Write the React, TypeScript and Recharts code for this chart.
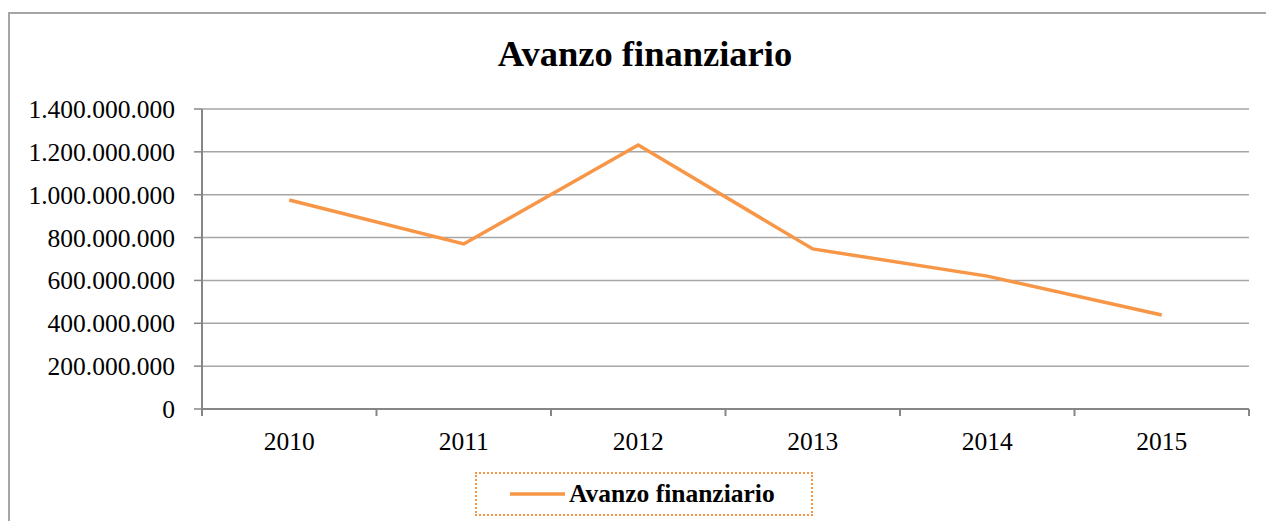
import { LineChart, Line, XAxis, YAxis, CartesianGrid, Legend } from 'recharts'

const years = ['2010', '2011', '2012', '2013', '2014', '2015']
const avanzo = [975000000, 770000000, 1232000000, 747000000, 620000000, 439000000]
const yTicks = [0, 200000000, 400000000, 600000000, 800000000, 1000000000, 1200000000, 1400000000]

const data = years.map((y, i) => ({ year: y, value: avanzo[i] }))

const W = 1266
const H = 521
const M = { top: 109, right: 17, bottom: 82, left: 0 }
const Y_AXIS_W = 202
const PLOT_W = W - M.left - M.right - Y_AXIS_W
const HALF_STEP = PLOT_W / years.length / 2
const ORANGE = '#F79646'
const FONT = '"Liberation Serif", "Times New Roman", serif'

const fmt = (v: number) => String(v).replace(/\B(?=(\d{3})+(?!\d))/g, '.')

// eslint-disable-next-line @typescript-eslint/no-explicit-any
function YearTick({ x, y, payload, index }: any) {
  const top = y - 23
  const bottom = y - 16
  return (
    <g>
      <line x1={x - HALF_STEP} x2={x - HALF_STEP} y1={top} y2={bottom} stroke="#868686" strokeWidth={2} />
      {index === years.length - 1 && (
        <line x1={x + HALF_STEP} x2={x + HALF_STEP} y1={top} y2={bottom} stroke="#868686" strokeWidth={2} />
      )}
      <text x={x} y={y} dy="0.71em" textAnchor="middle" fill="#000" fontSize={25.5} fontFamily={FONT}>
        {payload.value}
      </text>
    </g>
  )
}

function LegendBox() {
  return (
    <div
      style={{
        boxSizing: 'border-box',
        width: 338,
        height: 44,
        border: `2px dotted ${ORANGE}`,
        display: 'flex',
        alignItems: 'center',
        paddingLeft: 33,
      }}
    >
      <svg width={55} height={6} style={{ display: 'block' }}>
        <line x1={0} x2={55} y1={3} y2={3} stroke={ORANGE} strokeWidth={3.5} />
      </svg>
      <span style={{ fontFamily: FONT, fontWeight: 'bold', fontSize: 25.5, color: '#000', marginLeft: 4 }}>
        Avanzo finanziario
      </span>
    </div>
  )
}

export default function App() {
  return (
    <div style={{ position: 'absolute', left: 0, top: 0, width: W, height: H, background: '#fff', overflow: 'hidden' }}>
      <div
        style={{
          position: 'absolute',
          left: 8,
          top: 12,
          width: W,
          height: H,
          borderLeft: '2px solid #A6A6A6',
          borderTop: '2px solid #A6A6A6',
        }}
      />
      <div
        style={{
          position: 'absolute',
          left: 0,
          top: 36,
          width: 1290,
          textAlign: 'center',
          fontFamily: FONT,
          fontWeight: 'bold',
          fontSize: 36.5,
          lineHeight: 1,
          color: '#000',
        }}
      >
        Avanzo finanziario
      </div>
      <div style={{ position: 'absolute', left: 0, top: 0 }}>
        <LineChart width={W} height={H} data={data} margin={M}>
          <CartesianGrid vertical={false} stroke="#A6A6A6" strokeWidth={1.5} />
          <XAxis
            dataKey="year"
            padding={{ left: HALF_STEP, right: HALF_STEP }}
            height={30}
            tickLine={false}
            tickSize={7}
            tickMargin={16}
            axisLine={{ stroke: '#868686', strokeWidth: 2 }}
            tick={<YearTick />}
            interval={0}
          />
          <YAxis
            width={Y_AXIS_W}
            domain={[0, 1400000000]}
            ticks={yTicks}
            interval={0}
            tickSize={8}
            tickMargin={19}
            tickFormatter={fmt}
            tickLine={{ stroke: '#868686', strokeWidth: 1.5 }}
            axisLine={{ stroke: '#868686', strokeWidth: 2 }}
            tick={{ fill: '#000', fontSize: 25.5, fontFamily: FONT }}
          />
          <Legend
            layout="horizontal"
            verticalAlign="middle"
            align="center"
            wrapperStyle={{ top: 472, left: 475, width: 338, height: 44 }}
            content={<LegendBox />}
          />
          <Line
            type="linear"
            dataKey="value"
            stroke={ORANGE}
            strokeWidth={3.5}
            dot={false}
            activeDot={false}
            isAnimationActive={false}
          />
        </LineChart>
      </div>
    </div>
  )
}
